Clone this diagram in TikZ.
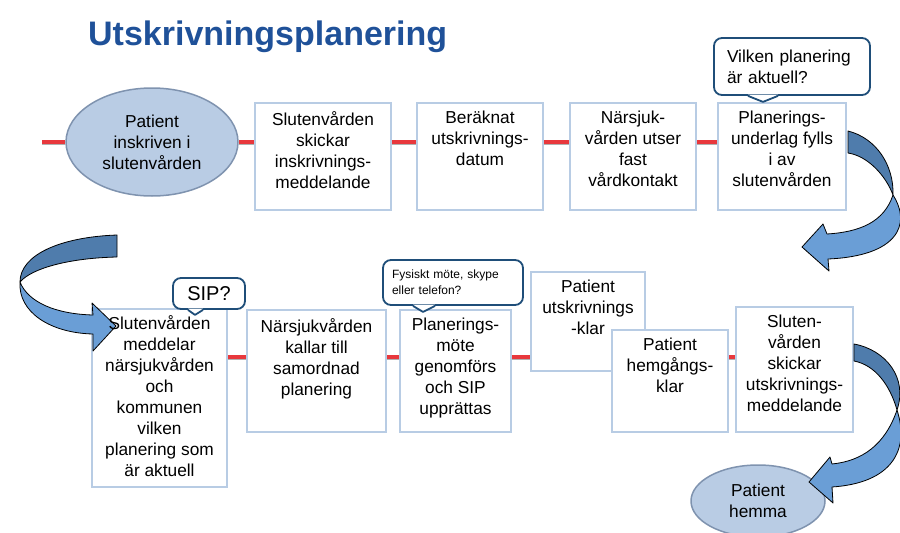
\documentclass[tikz,border=0pt]{standalone}
\usepackage{fontspec}
\setmainfont{Liberation Sans}
\usetikzlibrary{shapes.geometric,calc}
\definecolor{titleblue}{HTML}{1F5199}
\definecolor{ovalfill}{HTML}{B9CCE4}
\definecolor{ovalborder}{HTML}{7F93AF}
\definecolor{boxblue}{HTML}{B8CCE4}
\definecolor{calloutblue}{HTML}{1F4E79}
\definecolor{linkred}{HTML}{E8383D}
\definecolor{linkshadow}{HTML}{B0B0B0}
\definecolor{arrdarkc}{HTML}{4F7CAC}
\definecolor{arrlightc}{HTML}{6A9ED6}
\newcommand\bxfont{\fontsize{17.3}{21}\selectfont}
\newcommand\redlink[2]{%
  \path (#1) coordinate (rlA) (#2) coordinate (rlB);
  \draw[redshadow] ([yshift=-1.5pt]rlA) -- ([yshift=-1.5pt]rlB);
  \draw[redline] (rlA) -- (rlB);}
\newcommand\pointer[4]{% node, left offset, right offset, tip (x,depth)
  \fill[white] ([xshift=#2pt,yshift=1.2pt]#1.south) -- ([xshift=#4]#1.south) -- ([xshift=#3pt,yshift=1.2pt]#1.south) -- cycle;
  \draw[calloutline] ([xshift=#2pt]#1.south) -- ([xshift=#4]#1.south) -- ([xshift=#3pt]#1.south);}
\begin{document}
\begin{tikzpicture}[x=1pt,y=-1pt,
  box/.style={rectangle, draw=boxblue, line width=2pt, fill=white, inner sep=0pt},
  oval/.style={ellipse, draw=ovalborder, fill=ovalfill, line width=1.5pt, inner sep=0pt, align=center, font=\bxfont},
  txt/.style={align=center, inner sep=0pt, anchor=north, font=\bxfont},
  callout/.style={rectangle, draw=calloutblue, line width=1.8pt, rounded corners=8pt, fill=white, inner sep=0pt},
  calloutline/.style={draw=calloutblue, line width=1.8pt, line join=round},
  redline/.style={draw=linkred, line width=3.2pt},
  redshadow/.style={draw=linkshadow, line width=3pt},
  arrdark/.style={fill=arrdarkc, draw=black, line width=0.8pt, line join=round},
  arrlight/.style={fill=arrlightc, draw=black, line width=0.8pt, line join=round}]
\useasboundingbox (0,0) rectangle (900,533);

% title
\node[font=\fontsize{34}{40}\selectfont\bfseries, text=titleblue, anchor=base west, inner sep=0pt] (title) at (88,45) {Utskrivningsplanering};

% coordinates for link rows
\coordinate (row1) at (0,142);
\coordinate (row2) at (0,357);
\coordinate (start) at (42,142);

% row 1
\node[oval, minimum width=172, minimum height=108] (e1) at (152,142) {Patient\\inskriven i\\slutenvården};
\node[box, minimum width=136, minimum height=107] (b1) at (323,156.5) {};
\node[box, minimum width=126, minimum height=107] (b2) at (480,156.5) {};
\node[box, minimum width=126, minimum height=107] (b3) at (633,156.5) {};
\node[box, minimum width=128, minimum height=107] (b4) at (782,156.5) {};

% row 2
\node[box, minimum width=135, minimum height=178] (b5) at (159.5,398) {};
\node[box, minimum width=139, minimum height=122] (b6) at (316.5,371) {};
\node[box, minimum width=111, minimum height=122] (b7) at (455.5,371) {};
\node[box, minimum width=114, minimum height=99] (b8) at (588,321.5) {};
\node[box, minimum width=116, minimum height=102] (b9) at (670,381) {};
\node[box, minimum width=117, minimum height=125] (b10) at (794.5,369.5) {};
\node[oval, minimum width=134, minimum height=72] (e2) at (758,501) {Patient\\hemma};

% red links
\redlink{start}{e1.west}
\redlink{e1.east}{b1.west|-row1}
\redlink{b1.east|-row1}{b2.west|-row1}
\redlink{b2.east|-row1}{b3.west|-row1}
\redlink{b3.east|-row1}{b4.west|-row1}
\redlink{b5.east|-row2}{b6.west|-row2}
\redlink{b6.east|-row2}{b7.west|-row2}
\redlink{b7.east|-row2}{b8.west|-row2}
\redlink{b9.east|-row2}{b10.west|-row2}

% curved block arrows
\filldraw[arrdark] (848,131) .. controls (876,138) and (894,165) .. (893,195)
  .. controls (886,176) and (868,156) .. (848,153) -- cycle;
\filldraw[arrlight] (893,195) .. controls (912,225) and (897,256) .. (828,259)
  -- (829,271) -- (802,247) -- (823,224) -- (827,234)
  .. controls (860,232) and (884,222) .. (893,195) -- cycle;

\filldraw[arrdark] (117,235) .. controls (60,237) and (20,255) .. (20,282)
  .. controls (32,268) and (70,258) .. (117,257) -- cycle;
\filldraw[arrlight] (20,282) .. controls (18,312) and (50,333) .. (93,334)
  -- (93,351) -- (116,326) -- (92,303) -- (93,315)
  .. controls (55,314) and (28,302) .. (20,282) -- cycle;

\filldraw[arrdark] (854,344) .. controls (886,350) and (908,378) .. (897,410)
  .. controls (890,385) and (875,365) .. (854,361) -- cycle;
\filldraw[arrlight] (897,410) .. controls (910,450) and (892,483) .. (832,487)
  -- (833,503) -- (809,482) -- (830,457) -- (832,464)
  .. controls (862,461) and (885,445) .. (897,410) -- cycle;

% box texts
\node[txt] (t1) at ([yshift=-9pt]b1.north) {Slutenvården\\skickar\\inskrivnings-\\meddelande};
\node[txt] (t2) at ([yshift=-9pt]b2.north) {Beräknat\\utskrivnings-\\datum};
\node[txt] (t3) at ([yshift=-9pt]b3.north) {Närsjuk-\\vården utser\\fast\\vårdkontakt};
\node[txt] (t4) at ([yshift=-9pt]b4.north) {Planerings-\\underlag fylls\\i av\\slutenvården};
\node[txt] (t5) at ([yshift=-7pt]b5.north) {Slutenvården\\meddelar\\närsjukvården\\och\\kommunen\\vilken\\planering som\\är aktuell};
\node[txt] (t6) at ([yshift=-9pt]b6.north) {Närsjukvården\\kallar till\\samordnad\\planering};
\node[txt] (t7) at ([yshift=-9pt]b7.north) {Planerings-\\möte\\genomförs\\och SIP\\upprättas};
\node[txt] (t8) at ([yshift=-9pt]b8.north) {Patient\\utskrivnings\\-klar};
\node[txt] (t9) at ([yshift=-9pt]b9.north) {Patient\\hemgångs-\\klar};
\node[txt] (t10) at ([yshift=-9pt]b10.north) {Sluten-\\vården\\skickar\\utskrivnings-\\meddelande};

% callouts
\node[callout, minimum width=156, minimum height=57, text width=130, align=left, inner xsep=13pt, font=\bxfont] (c1) at (792,66.5) {Vilken planering\\är aktuell?};
\pointer{c1}{-44}{-14}{-29pt,yshift=-6pt}
\node[callout, minimum width=72, minimum height=31, font=\fontsize{20}{24}\selectfont] (c2) at (209,293.5) {SIP?};
\pointer{c2}{-21}{-6}{-14pt,yshift=-5pt}
\node[callout, minimum width=140, minimum height=45, text width=122, align=left, inner xsep=9pt, font=\fontsize{12}{16}\selectfont] (c3) at (453,282.5) {Fysiskt möte, skype\\eller telefon?};
\pointer{c3}{-40}{-18}{-30pt,yshift=-6pt}
\end{tikzpicture}
\end{document}
